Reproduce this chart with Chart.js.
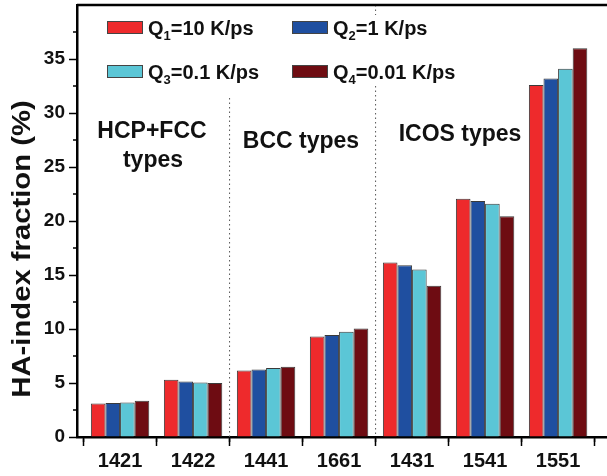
<!DOCTYPE html>
<html>
<head>
<meta charset="utf-8">
<script src="https://cdn.jsdelivr.net/npm/chart.js@4.4.1/dist/chart.umd.min.js"></script>
<style>
  html, body { margin: 0; padding: 0; background: #fff; }
  #wrap { width: 607px; height: 476px; }
</style>
</head>
<body>
<div id="wrap"><canvas id="haChart" width="607" height="476"></canvas></div>
<script>
const categories = ["1421", "1422", "1441", "1661", "1431", "1541", "1551"];
const seriesNames = ["Q1=10 K/ps", "Q2=1 K/ps", "Q3=0.1 K/ps", "Q4=0.01 K/ps"];
const q1 = [3.1, 5.3, 6.15, 9.3, 16.15, 22.05, 32.6];
const q2 = [3.15, 5.15, 6.25, 9.45, 15.9, 21.85, 33.2];
const q3 = [3.2, 5.05, 6.4, 9.75, 15.5, 21.6, 34.1];
const q4 = [3.35, 5.0, 6.5, 10.05, 14.0, 20.45, 36.0];
const yTicks = [0, 5, 10, 15, 20, 25, 30, 35];
const yTitle = "HA-index fraction (%)";
const groupTitles = [["HCP+FCC", "types"], ["BCC types"], ["ICOS types"]];

const colors = ["#ee2a2c", "#1f4fa0", "#5bc6d6", "#6e0c12"];
const font = "'Liberation Sans', Arial, sans-serif";

function toPoints(arr) {
    return arr.map((v, i) => ({ x: i + 1, y: v }));
}

const datasets = [q1, q2, q3, q4].map((arr, i) => ({
    label: seriesNames[i],
    data: toPoints(arr),
    backgroundColor: colors[i],
    borderColor: "#3a3a3a",
    borderWidth: 1,
    categoryPercentage: 0.8,
    barPercentage: 1.0
}));

// frame top line, minor ticks, dotted separators, titles, legend
const decorPlugin = {
    id: "decor",
    afterDraw(chart) {
        const ctx = chart.ctx;
        const a = chart.chartArea;
        const xs = chart.scales.x;
        const ys = chart.scales.y;
        ctx.save();

        // dotted separators
        ctx.strokeStyle = "#555";
        ctx.lineWidth = 1;
        ctx.setLineDash([1.5, 3]);
        const sepX1 = xs.getPixelForValue(2.5);
        const sepX2 = xs.getPixelForValue(4.5);
        ctx.beginPath();
        ctx.moveTo(sepX1, 98);
        ctx.lineTo(sepX1, a.bottom);
        ctx.moveTo(sepX2, a.top);
        ctx.lineTo(sepX2, a.bottom);
        ctx.stroke();
        ctx.setLineDash([]);

        // top frame
        ctx.strokeStyle = "#000";
        ctx.lineWidth = 2.5;
        ctx.beginPath();
        ctx.moveTo(a.left, a.top);
        ctx.lineTo(a.right, a.top);
        ctx.stroke();

        // minor ticks
        ctx.lineWidth = 1.5;
        ctx.beginPath();
        for (let v = 2.5; v < 40; v += 5) {
            const py = ys.getPixelForValue(v);
            ctx.moveTo(a.left, py);
            ctx.lineTo(a.left - 4, py);
        }
        for (let v = 0.5; v < 8; v += 1) {
            const px = xs.getPixelForValue(v);
            if (px < a.left || px > a.right) continue;
            ctx.moveTo(px, a.bottom);
            ctx.lineTo(px, a.bottom + 5);
        }
        ctx.stroke();

        // y axis title (slightly stretched like the original)
        ctx.save();
        ctx.translate(23, 249);
        ctx.rotate(-Math.PI / 2);
        ctx.scale(1.17, 1);
        ctx.fillStyle = "#111";
        ctx.font = "bold 25px " + font;
        ctx.textAlign = "center";
        ctx.textBaseline = "middle";
        ctx.fillText(yTitle, 0, 0);
        ctx.restore();

        // group titles
        ctx.fillStyle = "#111";
        ctx.font = "bold 23px " + font;
        ctx.textAlign = "center";
        ctx.textBaseline = "alphabetic";
        ctx.fillText(groupTitles[0][0], 152, 138);
        ctx.fillText(groupTitles[0][1], 153, 167);
        ctx.fillText(groupTitles[1][0], 301, 148);
        ctx.fillText(groupTitles[2][0], 460, 141);

        // legend
        ctx.fillStyle = "#fff";
        ctx.fillRect(95, 15, 370, 68);
        const boxPos = [[107, 21], [292, 21], [107, 65], [292, 65]];
        chart.data.datasets.forEach((ds, i) => {
            const [bx, by] = boxPos[i];
            ctx.fillStyle = ds.backgroundColor;
            ctx.fillRect(bx, by, 36, 13);
            ctx.strokeStyle = "#444";
            ctx.lineWidth = 1;
            ctx.strokeRect(bx + 0.5, by + 0.5, 35, 12);

            const m = ds.label.match(/^(Q)(\d)(.*)$/);
            let tx = bx + 41;
            const base = by + 14;
            ctx.fillStyle = "#111";
            ctx.textAlign = "left";
            ctx.font = "bold 20px " + font;
            ctx.fillText(m[1], tx, base);
            tx += ctx.measureText(m[1]).width;
            ctx.font = "bold 13px " + font;
            ctx.fillText(m[2], tx, base + 5);
            tx += ctx.measureText(m[2]).width;
            ctx.font = "bold 20px " + font;
            ctx.fillText(m[3], tx, base);
        });

        ctx.restore();
    }
};

new Chart(document.getElementById("haChart"), {
    type: "bar",
    data: { datasets: datasets },
    options: {
        responsive: false,
        animation: false,
        layout: { padding: { top: 5, left: 0, right: 0, bottom: 0 } },
        plugins: {
            legend: { display: false },
            tooltip: { enabled: false }
        },
        scales: {
            x: {
                type: "linear",
                offset: false,
                min: 0.41,
                max: 7.67,
                afterBuildTicks: s => { s.ticks = categories.map((_, i) => ({ value: i + 1 })); },
                afterFit: s => { s.height = 39; s.paddingLeft = 0; s.paddingRight = 0; },
                border: { color: "#000", width: 2.5 },
                grid: { drawOnChartArea: false, tickLength: 9, tickColor: "#000", tickWidth: 1.5 },
                ticks: {
                    callback: v => categories[v - 1] || "",
                    color: "#111",
                    padding: 3,
                    maxRotation: 0,
                    font: { family: font, size: 20, weight: "bold" }
                }
            },
            y: {
                min: 0,
                max: 40,
                afterBuildTicks: s => { s.ticks = yTicks.map(v => ({ value: v })); },
                afterFit: s => { s.width = 77; s.paddingTop = 0; s.paddingBottom = 0; },
                border: { color: "#000", width: 2.5 },
                grid: { drawOnChartArea: false, tickLength: 8, tickColor: "#000", tickWidth: 1.5 },
                ticks: {
                    color: "#111",
                    padding: 4,
                    font: { family: font, size: 19, weight: "bold" }
                }
            }
        }
    },
    plugins: [decorPlugin]
});
</script>
</body>
</html>
